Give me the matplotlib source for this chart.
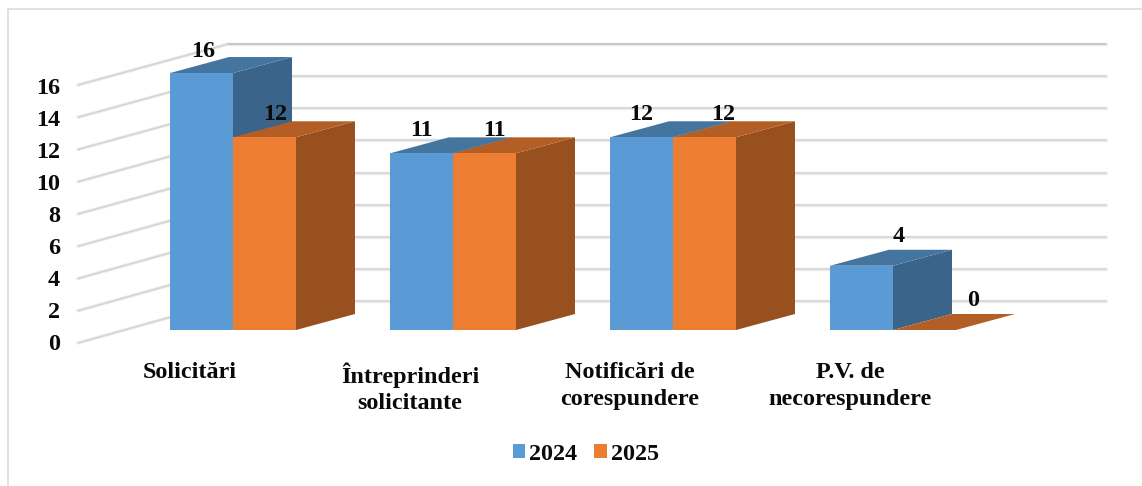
#!/usr/bin/env python3
"""Pseudo 3D bar chart, 2024 vs 2025."""
import matplotlib
matplotlib.use("Agg")
import matplotlib.pyplot as plt
from matplotlib.patches import Polygon

categories = ["Solicitări", "Întreprinderi\nsolicitante",
              "Notificări de\ncorespundere", "P.V. de\nnecorespundere"]
values_2024 = [16, 11, 12, 4]
values_2025 = [12, 11, 12, 0]
y_ticks = [0, 2, 4, 6, 8, 10, 12, 14, 16]

# scale of the front plane, in pixels
PX_X = 220.0
PX_Y = 16.06
X0 = 233.0
Y0 = 330.0
WIDTH = 63 / PX_X
DEPTH_X = 59 / PX_X
DEPTH_Y = 16 / PX_Y

# hand placed labels in the original, offset from the bar centre
label_dx_2024 = [2, 0, 0, 37]
label_dx_2025 = [11, 10, 19, 49]
label_dy_2024 = [22, 23, 23, 29]
label_dy_2025 = [23, 23, 23, 30]

BLUE = ("#5b9bd5", "#3a6489", "#44759f")
ORANGE = ("#ed7d31", "#98501f", "#b25e25")
GRID_HALO = "#ececec"
GRID = "#d4d4d4"
GRID_TOP = "#bcbcbc"
INK = "#0a0a0a"

plt.rcParams["font.family"] = ["Liberation Serif", "DejaVu Serif"]
plt.rcParams["font.weight"] = "bold"
plt.rcParams["font.size"] = 17.4

fig = plt.figure(figsize=(11.42, 4.86), dpi=100)
ax = fig.add_axes([0, 0, 1, 1])
ax.set_xlim(-X0 / PX_X, (1142 - X0) / PX_X)
ax.set_ylim((Y0 - 486) / PX_Y, Y0 / PX_Y)
ax.axis("off")


def dx(px):
    return (px - X0) / PX_X


def dy(px):
    return (Y0 - px) / PX_Y


# outer frame, only left and top show
ax.plot([dx(8), dx(8), dx(1142)], [dy(486), dy(9), dy(9)], color="#dcdcdc", lw=1.2, zorder=1)

# walls: floor-going line on the left, long line along the back
for v in y_ticks:
    left_y = dy(343) + v * (258 / 16) / PX_Y
    back_y = v + dy(301)
    core = GRID_TOP if v == y_ticks[-1] else GRID
    for col, lw in ((GRID_HALO, 2.4), (GRID, 1.1)):
        ax.plot([dx(78), dx(228)], [left_y, back_y], color=col, lw=lw,
                solid_capstyle="round", zorder=1)
    for col, lw in ((GRID_HALO, 2.4), (core, 1.1)):
        ax.plot([dx(228), dx(1106)], [back_y, back_y], color=col, lw=lw,
                solid_capstyle="round", zorder=1)
    ax.text(dx(60), dy(344) + v * 15.94 / PX_Y, str(v), ha="right", va="center",
            color=INK, zorder=5)


def draw_bar(left, val, cols, label):
    right = left + WIDTH
    side = [(right, 0), (right + DEPTH_X, DEPTH_Y),
            (right + DEPTH_X, val + DEPTH_Y), (right, val)]
    top = [(left, val), (left + DEPTH_X, val + DEPTH_Y),
           (right + DEPTH_X, val + DEPTH_Y), (right, val)]
    ax.add_patch(Polygon(side, closed=True, facecolor=cols[1], edgecolor="none", zorder=3))
    ax.add_patch(Polygon(top, closed=True, facecolor=cols[2], edgecolor="none", zorder=3))
    return ax.bar(left, val, WIDTH, align="edge", color=cols[0], zorder=3, label=label)


for i in range(len(categories)):
    draw_bar(i - WIDTH, values_2024[i], BLUE, "2024" if i == 0 else None)
    draw_bar(i, values_2025[i], ORANGE, "2025" if i == 0 else None)

    ax.text(i - WIDTH / 2 + label_dx_2024[i] / PX_X, values_2024[i] + label_dy_2024[i] / PX_Y,
            str(values_2024[i]), ha="center", va="center", color=INK, zorder=6)
    ax.text(i + WIDTH / 2 + label_dx_2025[i] / PX_X, values_2025[i] + label_dy_2025[i] / PX_Y,
            str(values_2025[i]), ha="center", va="center", color=INK, zorder=6)
    ax.text(i - 43 / PX_X, dy(362), categories[i], ha="center", va="top",
            color=INK, linespacing=1.35, zorder=6)

ax.legend(loc="center", bbox_to_anchor=(586 / 1142, 1 - 454 / 486), ncol=2, frameon=False,
          handlelength=0.5, handleheight=0.5, handletextpad=0.17, columnspacing=0.7,
          borderpad=0, labelcolor=INK)

fig.savefig("out.png", dpi=100)
